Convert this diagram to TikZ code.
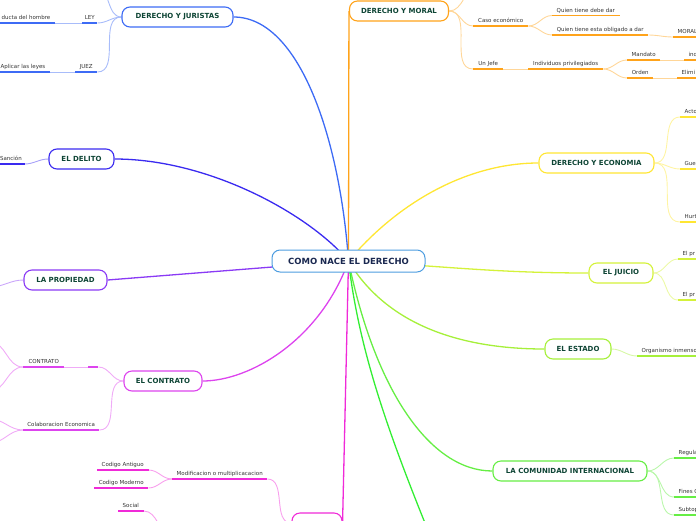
\documentclass[tikz,border=0pt]{standalone}
\usepackage{fontspec}
\setmainfont{DejaVu Sans}
\definecolor{jurc}{HTML}{3D6BF5}
\definecolor{morc}{HTML}{FFA31A}
\definecolor{ecoc}{HTML}{FFE633}
\definecolor{juic}{HTML}{D4F23A}
\definecolor{estc}{HTML}{A6F03A}
\definecolor{comc}{HTML}{66EE44}
\definecolor{gbrc}{HTML}{33EE33}
\definecolor{delc}{HTML}{3A2AF0}
\definecolor{proc}{HTML}{8A3AF5}
\definecolor{conc}{HTML}{DD44EE}
\definecolor{botc}{HTML}{F02AD8}
\definecolor{ctrc}{HTML}{4D9DE0}
\definecolor{toptxt}{HTML}{0E4535}
\definecolor{ctrtxt}{HTML}{1A2850}
\definecolor{subtxt}{HTML}{333333}
\pgfdeclarelayer{bg}
\pgfsetlayers{bg,main}
\tikzset{
 topic/.style={draw=#1, line width=1.1pt, fill=white, rounded corners=8pt, minimum height=20pt, inner sep=0pt, font=\fontsize{7}{8}\selectfont\bfseries, text=toptxt},
 sub/.style={font=\fontsize{5.5}{6}\selectfont, text=subtxt, inner xsep=4.5pt, inner ysep=1.8pt, text height=4.1pt, text depth=1.2pt},
 ul/.style={draw=#1, line width=1.6pt},
 lk/.style={draw=#1!45, line width=0.9pt},
 mainl/.style={draw=#1, line width=1.3pt},
}
\begin{document}
\begin{tikzpicture}[x=1pt,y=-1pt]
\useasboundingbox (0,0) rectangle (696,520);
% central
\node[draw=ctrc, line width=1pt, fill=white, rounded corners=8pt, minimum width=153pt, minimum height=22pt, inner sep=0pt, font=\fontsize{8.5}{10}\selectfont\bfseries, text=ctrtxt] (ctr) at (348.5,261) {COMO NACE EL DERECHO};
% topics
\node[topic=jurc, minimum width=111pt] (jur) at (177.5,17) {DERECHO Y JURISTAS};
\node[topic=morc, minimum width=99pt] (mor) at (399,11) {DERECHO Y MORAL};
\node[topic=ecoc, minimum width=115pt] (eco) at (596.5,163) {DERECHO Y ECONOMIA};
\node[topic=juic, minimum width=64pt] (jui) at (621,273) {EL JUICIO};
\node[topic=estc, minimum width=66pt] (est) at (578,349) {EL ESTADO};
\node[topic=comc, minimum width=154pt] (com) at (570,471) {LA COMUNIDAD INTERNACIONAL};
\node[topic=delc, minimum width=65pt] (del) at (81.5,159) {EL DELITO};
\node[topic=proc, minimum width=83pt] (pro) at (65.5,280) {LA PROPIEDAD};
\node[topic=conc, minimum width=78pt] (con) at (163,381) {EL CONTRATO};
\node[topic=botc, minimum width=50pt] (bot) at (317,523) {};
\coordinate (gbr) at (440,560);
% orange
\node[sub, anchor=south west, minimum width=55pt] (caso) at (473,26) {Caso económico};
\node[sub, anchor=south west, minimum width=67pt] (qdebe) at (552,15.5) {Quien tiene debe dar};
\node[sub, anchor=south west, minimum width=96pt] (qobl) at (552,35) {Quien tiene esta obligado a dar};
\node[sub, anchor=south west] (moral) at (673,37) {MORAL};
\node[sub, anchor=south west, minimum width=30pt] (jefe) at (473,69) {Un Jefe};
\node[sub, anchor=south west, minimum width=75pt] (indiv) at (528,69) {Individuos privilegiados};
\node[sub, anchor=south west, minimum width=33pt] (mand) at (627,60) {Mandato};
\node[sub, anchor=south west] (indx) at (684,60) {ind};
\node[sub, anchor=south west, minimum width=26pt] (orden) at (627,78) {Orden};
\node[sub, anchor=south west] (elim) at (677,78) {Elimi};
\coordinate (mup) at (478,-12);
% yellow
\node[sub, anchor=south west] (acto) at (680,117) {Acto};
\node[sub, anchor=south west] (gue) at (680,169) {Gue};
\node[sub, anchor=south west] (hurt) at (680,222) {Hurt};
% juicio
\node[sub, anchor=south west] (pr1) at (678,259) {El pr};
\node[sub, anchor=south west] (pr2) at (678,300) {El pr};
% estado
\node[sub, anchor=south west] (org) at (637,356) {Organismo inmenso};
% comunidad
\node[sub, anchor=south west] (reg) at (674,458) {Regula};
\node[sub, anchor=south west] (fin) at (674,497) {Fines C};
\node[sub, anchor=south west] (subt) at (674,515) {Subtop};
% juristas
\node[sub, anchor=south west, minimum width=15pt, inner xsep=0pt] (ley) at (82,23) {LEY};
\node[sub, anchor=south east] (ducta) at (55,23) {ducta del hombre};
\node[sub, anchor=south west, minimum width=22pt, inner xsep=0pt] (juez) at (75,72) {JUEZ};
\node[sub, anchor=south east] (aplic) at (50,72) {Aplicar las leyes};
\coordinate (jup) at (96,-12);
% delito
\node[sub, anchor=south east, inner xsep=2.5pt] (sanc) at (24.5,164) {Sanción};
% propiedad
\coordinate (ppl) at (-10,287);
% contrato
\node[sub, anchor=south west, minimum width=41pt] (contr) at (23,367) {CONTRATO};
\node[sub, anchor=south west, minimum width=10pt, inner xsep=0pt] (emptc) at (88,367) {};
\node[sub, anchor=south west, minimum width=76pt, inner xsep=0pt] (colab) at (23,430) {Colaboracion Economica};
\coordinate (c1) at (-10,342);
\coordinate (c2) at (-10,391);
\coordinate (c3) at (-10,419);
\coordinate (c4) at (-10,443);
% bottom
\node[sub, anchor=south west, minimum width=95pt, inner xsep=0pt] (modif) at (172,479) {Modificacion o multiplicacacion};
\node[sub, anchor=south west, minimum width=51pt] (antig) at (97,470) {Codigo Antiguo};
\node[sub, anchor=south west, minimum width=54pt] (moder) at (94,488) {Codigo Moderno};
\node[sub, anchor=south west, minimum width=25pt] (social) at (118,511) {Social};
\coordinate (socp) at (172,534);

\begin{pgfonlayer}{bg}
% main branches
\draw[mainl=jurc] (ctr.center) .. controls (340,140) and (300,17) .. (jur.east);
\draw[mainl=morc] (ctr.center) -- (mor.west);
\draw[mainl=ecoc] (ctr.center) .. controls (400,200) and (470,163) .. (eco.west);
\draw[mainl=juic] (ctr.center) to[out=-3,in=180] (jui.west);
\draw[mainl=estc] (ctr.center) .. controls (390,330) and (470,349) .. (est.west);
\draw[mainl=comc] (ctr.center) .. controls (375,390) and (430,471) .. (com.west);
\draw[mainl=gbrc] (ctr.center) .. controls (360,360) and (395,450) .. (gbr);
\draw[mainl=botc] (ctr.center) -- (bot.east);
\draw[mainl=conc] (ctr.center) .. controls (320,340) and (250,381) .. (con.east);
\draw[mainl=proc] (ctr.center) -- (pro.east);
\draw[mainl=delc] (ctr.center) .. controls (310,215) and (210,159) .. (del.east);
% orange links
\draw[lk=morc] (mor.east) to[out=0,in=180] (caso.south west);
\draw[lk=morc] (mor.east) to[out=0,in=180] (jefe.south west);
\draw[lk=morc] (mor.east) to[out=0,in=180] (mup);
\draw[lk=morc] (caso.south east) to[out=0,in=180] (qdebe.south west);
\draw[lk=morc] (caso.south east) to[out=0,in=180] (qobl.south west);
\draw[lk=morc] (qobl.south east) to[out=0,in=180] (moral.south west);
\draw[lk=morc] (jefe.south east) -- (indiv.south west);
\draw[lk=morc] (indiv.south east) to[out=0,in=180] (mand.south west);
\draw[lk=morc] (indiv.south east) to[out=0,in=180] (orden.south west);
\draw[lk=morc] (mand.south east) -- (indx.south west);
\draw[lk=morc] (orden.south east) -- (elim.south west);
% yellow links
\draw[lk=ecoc] (eco.east) to[out=0,in=180] (acto.south west);
\draw[lk=ecoc] (eco.east) to[out=0,in=180] (gue.south west);
\draw[lk=ecoc] (eco.east) to[out=0,in=180] (hurt.south west);
\draw[lk=juic] (jui.east) to[out=0,in=180] (pr1.south west);
\draw[lk=juic] (jui.east) to[out=0,in=180] (pr2.south west);
\draw[lk=estc] (est.east) to[out=0,in=180] (org.south west);
\draw[lk=comc] (com.east) to[out=0,in=180] (reg.south west);
\draw[lk=comc] (com.east) to[out=0,in=180] (fin.south west);
\draw[lk=comc] (com.east) to[out=0,in=180] (subt.south west);
% blue links
\draw[lk=jurc] (ley.south east) to[out=0,in=180] (jur.west);
\draw[lk=jurc] (juez.south east) to[out=0,in=180] (jur.west);
\draw[lk=jurc] (jur.west) to[out=180,in=0] (jup);
\draw[lk=jurc] (ducta.south east) -- (ley.south west);
\draw[lk=jurc] (aplic.south east) -- (juez.south west);
\draw[lk=delc] (sanc.south east) to[out=0,in=180] (del.west);
\draw[lk=proc] (pro.west) to[out=180,in=0] (ppl);
% contrato links
\draw[lk=conc] (emptc.south east) to[out=0,in=180] (con.west);
\draw[lk=conc] (colab.south east) to[out=0,in=180] (con.west);
\draw[lk=conc] (contr.south east) -- (emptc.south west);
\draw[lk=conc] (contr.south west) to[out=180,in=0] (c1);
\draw[lk=conc] (contr.south west) to[out=180,in=0] (c2);
\draw[lk=conc] (colab.south west) to[out=180,in=0] (c3);
\draw[lk=conc] (colab.south west) to[out=180,in=0] (c4);
% bottom links
\draw[lk=botc] (modif.south east) to[out=0,in=180] (bot.west);
\draw[lk=botc] (modif.south west) to[out=180,in=0] (antig.south east);
\draw[lk=botc] (modif.south west) to[out=180,in=0] (moder.south east);
\draw[lk=botc] (social.south east) to[out=0,in=180] (socp);
\end{pgfonlayer}

% underlines
\foreach \n in {caso,qdebe,qobl,jefe,indiv,mand,orden}
  \draw[ul=morc] (\n.south west) -- (\n.south east);
\foreach \n in {moral,indx,elim}
  \draw[ul=morc] (\n.south west) -- ++(40,0);
\foreach \n in {acto,gue,hurt}
  \draw[ul=ecoc] (\n.south west) -- ++(40,0);
\foreach \n in {pr1,pr2}
  \draw[ul=juic] (\n.south west) -- ++(40,0);
\draw[ul=estc] (org.south west) -- ++(80,0);
\foreach \n in {reg,fin,subt}
  \draw[ul=comc] (\n.south west) -- ++(40,0);
\foreach \n in {ley,juez}
  \draw[ul=jurc] (\n.south west) -- (\n.south east);
\foreach \n in {ducta,aplic}
  \draw[ul=jurc] (\n.south east) -- ++(-80,0);
\draw[ul=delc] (sanc.south east) -- ++(-40,0);
\foreach \n in {contr,emptc,colab}
  \draw[ul=conc] (\n.south west) -- (\n.south east);
\foreach \n in {modif,antig,moder,social}
  \draw[ul=botc] (\n.south west) -- (\n.south east);
\end{tikzpicture}
\end{document}
